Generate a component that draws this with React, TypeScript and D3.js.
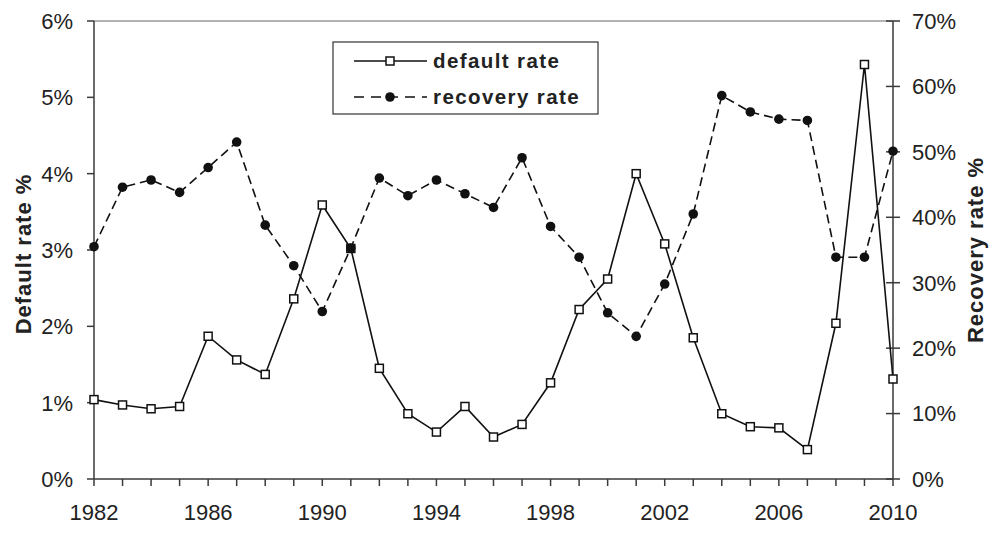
import React from "react";
import * as d3 from "d3";

const years: number[] = d3.range(1982, 2011);
const defaultRate: number[] = [
  1.04, 0.97, 0.92, 0.95, 1.87, 1.56, 1.37, 2.36, 3.59, 3.02,
  1.45, 0.855, 0.615, 0.95, 0.55, 0.715, 1.26, 2.22, 2.62, 4.0,
  3.08, 1.85, 0.855, 0.685, 0.67, 0.385, 2.04, 5.43, 1.31,
];
const recoveryRate: number[] = [
  35.5, 44.6, 45.7, 43.8, 47.6, 51.5, 38.8, 32.6, 25.6, 35.3,
  46.0, 43.3, 45.7, 43.6, 41.5, 49.1, 38.6, 33.9, 25.4, 21.8,
  29.8, 40.5, 58.6, 56.1, 55.0, 54.8, 33.9, 33.9, 50.1,
];
const leftTicks: number[] = [0, 1, 2, 3, 4, 5, 6];
const rightTicks: number[] = [0, 10, 20, 30, 40, 50, 60, 70];
const xLabelYears: number[] = [1982, 1986, 1990, 1994, 1998, 2002, 2006, 2010];
const seriesNames: string[] = ["default rate", "recovery rate"];

const W = 992;
const H = 537;
const left = 94;
const right = 893;
const top = 21;
const bottom = 479;
const FONT = "Liberation Sans, Arial, sans-serif";
const AXIS = "#3a3a3a";
const TEXT = "#222";

export default function App() {
  const x = d3.scaleLinear().domain([1982, 2010]).range([left, right]);
  const yL = d3.scaleLinear().domain([0, 6]).range([bottom, top]);
  const yR = d3.scaleLinear().domain([0, 70]).range([bottom, top]);

  const lineD = d3
    .line<number>()
    .x((_, i) => x(years[i]))
    .y((d) => yL(d))(defaultRate) as string;
  const lineR = d3
    .line<number>()
    .x((_, i) => x(years[i]))
    .y((d) => yR(d))(recoveryRate) as string;

  const sq = 8;

  return (
    <svg
      width={W}
      height={H}
      style={{ position: "absolute", left: 0, top: 0, background: "#fff" }}
      fontFamily={FONT}
    >
      <rect x={0} y={0} width={W} height={H} fill="#fff" />
      {/* top border */}
      <line x1={left} x2={right} y1={top} y2={top} stroke="#9a9a9a" strokeWidth={1.5} />
      {/* left axis */}
      <line x1={left} x2={left} y1={top} y2={bottom} stroke={AXIS} strokeWidth={1.5} />
      {leftTicks.map((t) => (
        <g key={"l" + t}>
          <line x1={left - 7} x2={left} y1={yL(t)} y2={yL(t)} stroke={AXIS} strokeWidth={1.5} />
          <text
            x={left - 21}
            y={yL(t)}
            dy="0.36em"
            textAnchor="end"
            fontSize={22}
            fill={TEXT}
          >
            {t + "%"}
          </text>
        </g>
      ))}
      {/* right axis */}
      <line x1={right} x2={right} y1={top} y2={bottom} stroke={AXIS} strokeWidth={1.5} />
      {rightTicks.map((t) => (
        <g key={"r" + t}>
          <line x1={right - 7} x2={right + 7} y1={yR(t)} y2={yR(t)} stroke={AXIS} strokeWidth={1.5} />
          <text
            x={right + 19}
            y={yR(t)}
            dy="0.36em"
            textAnchor="start"
            fontSize={22}
            fill={TEXT}
          >
            {t + "%"}
          </text>
        </g>
      ))}
      {/* x axis */}
      <line x1={left} x2={right} y1={bottom} y2={bottom} stroke={AXIS} strokeWidth={1.5} />
      {years.map((yv) => (
        <line
          key={"xt" + yv}
          x1={x(yv)}
          x2={x(yv)}
          y1={bottom}
          y2={bottom + 7}
          stroke={AXIS}
          strokeWidth={1.5}
        />
      ))}
      {xLabelYears.map((yv) => (
        <text
          key={"xl" + yv}
          x={x(yv)}
          y={520}
          textAnchor="middle"
          fontSize={22}
          fill={TEXT}
        >
          {yv}
        </text>
      ))}
      {/* axis titles */}
      <text
        transform={`translate(31,${(top + bottom) / 2 + 4}) rotate(-90)`}
        textAnchor="middle"
        fontSize={22}
        fontWeight="bold"
        letterSpacing={1}
        fill={TEXT}
      >
        Default rate %
      </text>
      <text
        transform={`translate(983,${(top + bottom) / 2}) rotate(-90)`}
        textAnchor="middle"
        fontSize={22}
        fontWeight="bold"
        letterSpacing={1}
        fill={TEXT}
      >
        Recovery rate %
      </text>
      {/* default rate series */}
      <path d={lineD} fill="none" stroke="#111" strokeWidth={1.6} />
      {defaultRate.map((v, i) => (
        <rect
          key={"s" + i}
          x={x(years[i]) - sq / 2}
          y={yL(v) - sq / 2}
          width={sq}
          height={sq}
          fill="#fff"
          stroke="#111"
          strokeWidth={1.5}
        />
      ))}
      {/* recovery rate series */}
      <path d={lineR} fill="none" stroke="#111" strokeWidth={1.6} strokeDasharray="9,5" />
      {recoveryRate.map((v, i) => (
        <circle key={"c" + i} cx={x(years[i])} cy={yR(v)} r={4.8} fill="#111" />
      ))}
      {/* legend */}
      <rect x={333} y={42} width={265} height={72} fill="#fff" stroke="#333" strokeWidth={1.2} />
      <line x1={354} x2={427} y1={61} y2={61} stroke="#111" strokeWidth={1.6} />
      <rect x={390 - 4} y={61 - 4} width={8} height={8} fill="#fff" stroke="#111" strokeWidth={1.5} />
      <text x={433} y={61} dy="0.36em" fontSize={20.5} fontWeight="bold" letterSpacing={1.4} fill={TEXT}>
        {seriesNames[0]}
      </text>
      <line x1={354} x2={427} y1={97} y2={97} stroke="#111" strokeWidth={1.6} strokeDasharray="10,7" />
      <circle cx={390} cy={97} r={4.8} fill="#111" />
      <text x={433} y={97} dy="0.36em" fontSize={20.5} fontWeight="bold" letterSpacing={1.4} fill={TEXT}>
        {seriesNames[1]}
      </text>
    </svg>
  );
}
